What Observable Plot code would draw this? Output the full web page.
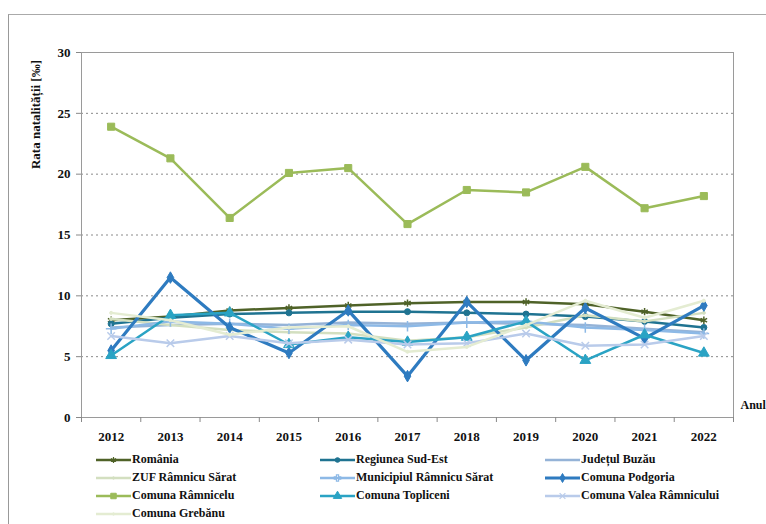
<!DOCTYPE html>
<html>
<head>
<meta charset="utf-8">
<script src="https://cdn.jsdelivr.net/npm/d3@7"></script>
<script src="https://cdn.jsdelivr.net/npm/@observablehq/plot@0.6"></script>
<style>
  body { margin: 0; background: #fff; font-family: "Liberation Serif", serif; }
  #wrap { position: relative; width: 766px; height: 524px; overflow: hidden; }
  #border { position: absolute; left: 8px; top: 14px; width: 800px; height: 600px; border-left: 1px solid #999; border-top: 1px solid #aaa; }
  #chart { position: absolute; left: 0; top: 0; }
  #chart svg text { font-weight: bold; }
  #legend { position: absolute; left: 0; top: 452px; width: 766px; }
  .item { position: absolute; display: flex; align-items: center; font-weight: bold; font-size: 12px; color: #111; white-space: nowrap; }
  .item svg { margin-right: 1px; }
</style>
</head>
<body>
<div id="wrap">
  <div id="border"></div>
  <div id="chart"></div>
  <div id="legend"></div>
</div>
<script>
const years = [2012, 2013, 2014, 2015, 2016, 2017, 2018, 2019, 2020, 2021, 2022];
const seriesNames = [
  "România", "Regiunea Sud-Est", "Județul Buzău",
  "ZUF Râmnicu Sărat", "Municipiul Râmnicu Sărat", "Comuna Podgoria",
  "Comuna Râmnicelu", "Comuna Topliceni", "Comuna Valea Râmnicului",
  "Comuna Grebănu"
];
const romania      = [8.0, 8.3, 8.8, 9.0, 9.2, 9.4, 9.5, 9.5, 9.3, 8.7, 8.0];
const sudEst       = [7.7, 8.2, 8.5, 8.6, 8.7, 8.7, 8.6, 8.5, 8.3, 7.9, 7.4];
const buzau        = [7.4, 7.6, 7.7, 7.6, 7.8, 7.7, 7.8, 7.7, 7.6, 7.3, 7.0];
const zuf          = [8.1, 7.6, 7.2, 7.0, 6.9, 6.3, 6.6, 7.4, 8.4, 7.9, 8.6];
const municipiul   = [7.3, 7.9, 7.7, 7.3, 7.6, 7.5, 7.8, 7.9, 7.4, 7.2, 6.9];
const podgoria     = [5.5, 11.5, 7.4, 5.3, 8.8, 3.4, 9.5, 4.7, 9.0, 6.5, 9.2];
const ramnicelu    = [23.9, 21.3, 16.4, 20.1, 20.5, 15.9, 18.7, 18.5, 20.6, 17.2, 18.2];
const topliceni    = [5.1, 8.4, 8.6, 6.0, 6.6, 6.2, 6.6, 7.9, 4.7, 6.8, 5.3];
const valea        = [6.7, 6.1, 6.7, 6.1, 6.4, 6.0, 6.1, 6.9, 5.9, 6.0, 6.7];
const grebanu      = [8.6, 8.0, 6.8, 7.4, 7.5, 5.4, 5.8, 7.6, 9.6, 8.2, 9.6];
const yTicks = [0, 5, 10, 15, 20, 25, 30];

const seriesValues = [romania, sudEst, buzau, zuf, municipiul, podgoria, ramnicelu, topliceni, valea, grebanu];
const colors  = ["#4f6228", "#1f7391", "#95b3d7", "#d3dfc0", "#8db9e6", "#2e7bc0", "#9bbb59", "#2aa3c4", "#b9cbea", "#e4ecd2"];
const symbols = ["asterisk", "circle", "circle", "circle", "plus", "diamond", "square", "triangle", "times", "circle"];
const widths  = [2.5, 2.5, 2.5, 2.5, 2.5, 3.2, 2.5, 2.5, 2.5, 2.5];
const radii   = [3.5, 3, 0, 1.5, 3.5, 3.5, 4, 4, 3.5, 1.5];

const marks = [
  Plot.ruleY([5, 10, 15, 20, 25], {stroke: "#8a8a8a", strokeDasharray: "2,3", strokeWidth: 1}),
  Plot.frame({stroke: "#9a9a9a"}),
  Plot.axisY({ticks: yTicks, tickSize: 5, tickPadding: 6, label: null, fontSize: 13, stroke: "#888"}),
  Plot.axisX({ticks: years, tickSize: 0, tickPadding: 14, label: null, fontSize: 13, tickFormat: d => String(d)}),
  Plot.axisX({ticks: years.map(y => y - 0.5).concat([years[years.length - 1] + 0.5]), tickSize: 5, tickFormat: () => "", label: null, stroke: "#888"}),
  Plot.text(["Rata natalității [‰]"], {frameAnchor: "top-left", textAnchor: "middle", dx: -51, dy: 62, rotate: -90, fontSize: 13, fontWeight: "bold", fill: "#111"}),
  Plot.text(["Anul"], {frameAnchor: "bottom-right", dx: 7, dy: -9, textAnchor: "start", fontSize: 12, fontWeight: "bold", fill: "#111"})
];

seriesNames.forEach((name, i) => {
  const data = years.map((yr, j) => ({year: yr, value: seriesValues[i][j]}));
  marks.push(Plot.line(data, {x: "year", y: "value", stroke: colors[i], strokeWidth: widths[i]}));
  if (radii[i] > 0) {
    const open = symbols[i] === "asterisk" || symbols[i] === "plus" || symbols[i] === "times";
    marks.push(Plot.dot(data, {
      x: "year", y: "value", symbol: () => symbols[i], r: radii[i],
      fill: open ? "none" : colors[i], stroke: colors[i], strokeWidth: open ? 1.5 : 1
    }));
  }
});

const chart = Plot.plot({
  width: 766,
  height: 448,
  marginTop: 52,
  marginBottom: 31,
  marginLeft: 81,
  marginRight: 33,
  x: {domain: [2011.5, 2022.5], axis: null},
  y: {domain: [0, 30], axis: null},
  symbol: {type: "identity"},
  style: {fontFamily: "'Liberation Serif', serif", fontSize: "13px", color: "#111", background: "transparent"},
  marks
});
document.getElementById("chart").appendChild(chart);

// Legend
const symMap = {asterisk: d3.symbolAsterisk, circle: d3.symbolCircle, plus: d3.symbolCross, diamond: d3.symbolDiamond,
  square: d3.symbolSquare, triangle: d3.symbolTriangle, times: d3.symbolTimes};
const colX = [96, 320, 545];
const legend = document.getElementById("legend");
seriesNames.forEach((name, i) => {
  const col = i % 3, row = Math.floor(i / 3);
  const div = document.createElement("div");
  div.className = "item";
  div.style.left = colX[col] + "px";
  div.style.top = (row * 18) + "px";
  const svg = d3.create("svg").attr("width", 35).attr("height", 14);
  svg.append("line").attr("x1", 0).attr("x2", 35).attr("y1", 7).attr("y2", 7)
    .attr("stroke", colors[i]).attr("stroke-width", widths[i]);
  if (radii[i] > 0) {
    const open = symbols[i] === "asterisk" || symbols[i] === "plus" || symbols[i] === "times";
    svg.append("path").attr("transform", "translate(17.5,7)")
      .attr("d", d3.symbol(symMap[symbols[i]], Math.PI * radii[i] * radii[i] * 0.6)())
      .attr("fill", open ? "none" : colors[i]).attr("stroke", colors[i]).attr("stroke-width", open ? 1.2 : 1);
  }
  div.appendChild(svg.node());
  const span = document.createElement("span");
  span.textContent = name;
  div.appendChild(span);
  legend.appendChild(div);
});
</script>
</body>
</html>
